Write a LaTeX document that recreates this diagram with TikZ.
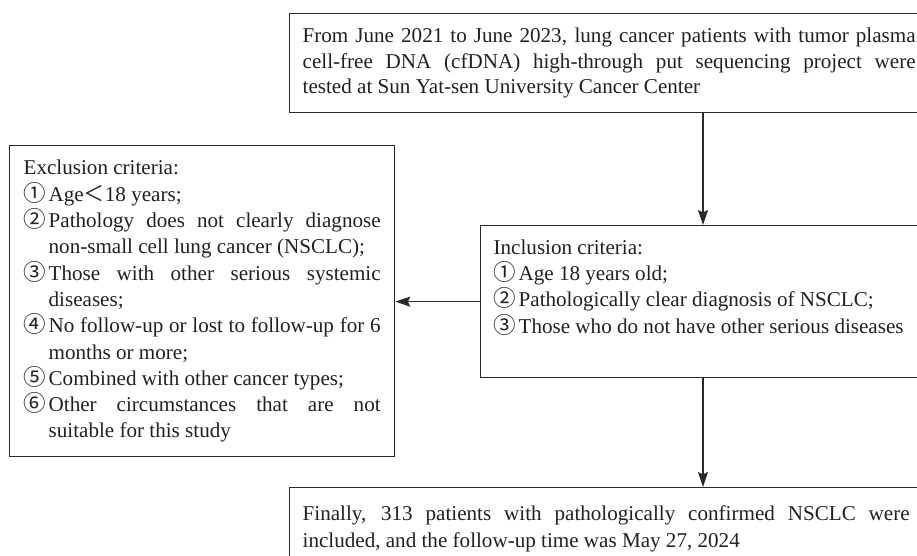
\documentclass[tikz,border=0pt]{standalone}
\usepackage{fontspec}
\setmainfont{Liberation Serif}
\newfontfamily\cjkf{Noto Sans CJK SC}
\usetikzlibrary{arrows.meta}
\definecolor{ink}{HTML}{231F20}
\definecolor{edge}{HTML}{2A2A2A}
\newcommand{\cn}[1]{\makebox[25pt][l]{\smash{\cjkf\fontsize{22.5}{26.3}\selectfont #1}}}
\newcommand{\jl}[2]{\makebox[#1][s]{#2}}
\newcommand{\lln}[2]{\makebox[#1][l]{#2}}
\begin{document}
\begin{tikzpicture}[x=1pt,y=-1pt,
  box/.style={draw=edge, line width=1.3pt, inner xsep=13pt, inner ysep=0pt,
    anchor=north west, align=left, text=ink,
    font=\fontsize{21.1}{26.3}\selectfont},
  arr/.style={draw=edge, line width=1.3pt,
    -{Stealth[length=15pt,width=10pt,inset=2.5pt]}}]
\useasboundingbox (0,0) rectangle (917,556);
\coordinate (ax) at (703,0);

\node[box, minimum height=99pt, font=\fontsize{21.1}{25.5}\selectfont] (top) at (289,13)
  {\strut\jl{613pt}{From June 2021 to June 2023, lung cancer patients with tumor plasma}\\
   \strut\jl{613pt}{cell-free DNA (cfDNA) high-through put sequencing project were}\\
   \strut\lln{613pt}{tested at Sun Yat-sen University Cancer Center}};

\node[box, inner xsep=14pt, minimum height=311pt] (exc) at (9,145)
  {\strut\lln{357pt}{Exclusion criteria:}\\
   \strut\cn{①}\lln{332pt}{Age{\cjkf ＜}18 years;}\\
   \strut\cn{②}\jl{332pt}{Pathology does not clearly diagnose}\\
   \strut\hspace*{25pt}\lln{332pt}{non-small cell lung cancer (NSCLC);}\\
   \strut\cn{③}\jl{332pt}{Those with other serious systemic}\\
   \strut\hspace*{25pt}\lln{332pt}{diseases;}\\
   \strut\cn{④}\jl{332pt}{No follow-up or lost to follow-up for 6}\\
   \strut\hspace*{25pt}\lln{332pt}{months or more;}\\
   \strut\cn{⑤}\lln{332pt}{Combined with other cancer types;}\\
   \strut\cn{⑥}\jl{332pt}{Other circumstances that are not}\\
   \strut\hspace*{25pt}\lln{332pt}{suitable for this study}};

\node[box, minimum height=152pt] (inc) at (480,225)
  {\strut\lln{430pt}{Inclusion criteria:}\\
   \strut\cn{①}\lln{405pt}{Age 18 years old;}\\
   \strut\cn{②}\lln{405pt}{Pathologically clear diagnosis of NSCLC;}\\
   \strut\cn{③}\lln{405pt}{Those who do not have other serious diseases}\\
   \strut};

\node[box, minimum height=82pt] (bot) at (289,487)
  {\strut\jl{607pt}{Finally, 313 patients with pathologically confirmed NSCLC were}\\
   \strut\lln{607pt}{included, and the follow-up time was May 27, 2024}};

\draw[arr] (top.south -| ax) -- (inc.north -| ax);
\draw[arr] (inc.west) -- (exc.east |- inc.west);
\draw[arr] (inc.south -| ax) -- (bot.north -| ax);
\end{tikzpicture}
\end{document}
